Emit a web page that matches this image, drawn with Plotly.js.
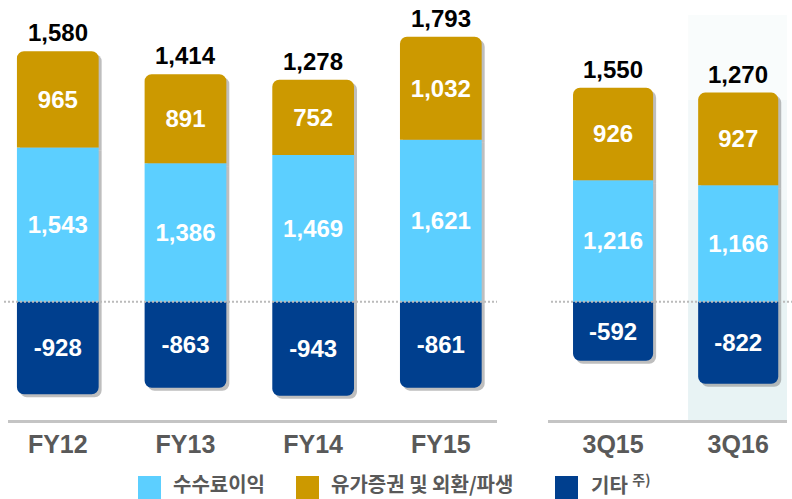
<!DOCTYPE html>
<html>
<head>
<meta charset="utf-8">
<script src="https://cdn.plot.ly/plotly-3.0.1.min.js"></script>
<style>html,body{margin:0;padding:0;background:#fff;}#chart{width:792px;height:499px;}</style>
</head>
<body>
<div id="chart"></div>
<script>
// ---- data ----
const annualCats = ["FY12", "FY13", "FY14", "FY15"];
const quarterCats = ["3Q15", "3Q16"];
const feeAnnual = [1543, 1386, 1469, 1621];
const secAnnual = [965, 891, 752, 1032];
const otherAnnual = [-928, -863, -943, -861];
const totalAnnual = [1580, 1414, 1278, 1793];
const feeQuarter = [1216, 1166];
const secQuarter = [926, 927];
const otherQuarter = [-592, -822];
const totalQuarter = [1550, 1270];
const seriesNames = ["수수료이익", "유가증권 및 외환/파생", "기타"];
const legendNote = "주)";

// ---- styles ----
const C_FEE = "#5CCFFF", C_SEC = "#CC9900", C_OTH = "#003F8E";
const FONT = "Liberation Sans, Arial, sans-serif";
const KFONT = "Noto Sans CJK KR, sans-serif";
const W = 792, PLOT_H = 420;
const shadowColor = "rgba(110,110,110,0.45)";

function fmt(v){ return v.toLocaleString("en-US"); }

function barTrace(x, y, color, xa, ya, name, shadow){
  const t = {
    type: "bar", x: x, y: y, name: name, xaxis: xa, yaxis: ya,
    marker: {color: shadow ? shadowColor : color, cornerradius: 7, line: {width: 0}},
    showlegend: false, hoverinfo: "skip"
  };
  if (!shadow){
    t.text = y.map(fmt);
    t.texttemplate = "%{text}";
    t.textposition = "inside";
    t.insidetextanchor = "middle";
    t.textangle = 0;
    t.constraintext = "none";
    t.textfont = {family: FONT, size: 24, color: "#ffffff", weight: "bold"};
  }
  return t;
}

const traces = [];
// shadows (base subplots, shifted ranges)
[[annualCats, [feeAnnual, secAnnual, otherAnnual], "x"], [quarterCats, [feeQuarter, secQuarter, otherQuarter], "x2"]].forEach(g => {
  g[1].forEach((s, i) => traces.push(barTrace(g[0], s, null, g[2], "y", seriesNames[i], true)));
});
// main bars (overlay subplots, true ranges)
[[annualCats, [feeAnnual, secAnnual, otherAnnual], "x3"], [quarterCats, [feeQuarter, secQuarter, otherQuarter], "x4"]].forEach(g => {
  const cols = [C_FEE, C_SEC, C_OTH];
  g[1].forEach((s, i) => traces.push(barTrace(g[0], s, cols[i], g[2], "y2", seriesNames[i], false)));
});

// totals
const annotations = [];
function addTotals(cats, fee, sec, tot, xref){
  cats.forEach((c, i) => annotations.push({
    x: c, y: fee[i] + sec[i], xref: xref, yref: "y2", text: fmt(tot[i]),
    showarrow: false, yanchor: "bottom", yshift: 3,
    font: {family: FONT, size: 24, color: "#000000", weight: "bold"}
  }));
}
addTotals(annualCats, feeAnnual, secAnnual, totalAnnual, "x3");
addTotals(quarterCats, feeQuarter, secQuarter, totalQuarter, "x4");

// legend (custom)
const legendItems = [
  {x0: 138, tx: 171, color: C_FEE, text: seriesNames[0]},
  {x0: 296, tx: 329, color: C_SEC, text: seriesNames[1]},
  {x0: 555, tx: 589, color: C_OTH, text: seriesNames[2] + " <sup>" + legendNote + "</sup>"}
];
const shapes = [];
legendItems.forEach(it => {
  shapes.push({type: "rect", xref: "paper", yref: "paper",
    x0: it.x0 / W, x1: (it.x0 + 23) / W, y0: (PLOT_H - 476) / PLOT_H, y1: (PLOT_H - 499) / PLOT_H,
    fillcolor: it.color, line: {width: 0}});
  annotations.push({xref: "paper", yref: "paper", x: it.tx / W, y: (PLOT_H - 484) / PLOT_H,
    xanchor: "left", yanchor: "middle", showarrow: false, text: it.text,
    font: {family: KFONT, size: 20, color: "#595959", weight: "bold"}});
});

// highlight shading for 3Q16 (gradient approximation)
const shadeSteps = [[15, 0.2], [100, 0.3], [200, 0.4], [300, 0.55]];
shadeSteps.forEach(s => shapes.push({type: "rect", layer: "below", xref: "x4", yref: "paper",
  x0: 0.6, x1: 1.39, y0: 0, y1: (PLOT_H - s[0]) / PLOT_H,
  fillcolor: "#E3F0F2", opacity: s[1], line: {width: 0}}));

// dotted zero lines
shapes.push({type: "line", xref: "paper", yref: "y2", x0: 4 / W, x1: 497 / W, y0: 0, y1: 0,
  line: {color: "#BBBBBB", width: 2, dash: "2px,2px"}, layer: "above"});
shapes.push({type: "line", xref: "paper", yref: "y2", x0: 551 / W, x1: 792 / W, y0: 0, y1: 0,
  line: {color: "#BBBBBB", width: 2, dash: "2px,2px"}, layer: "above"});

const yRange = [-1185, 3020];
const pxPerUnit = PLOT_H / (yRange[1] - yRange[0]);
const shY = 3 / pxPerUnit;
const xA = [-0.39, 3.44], xQ = [-0.52, 1.39];
const domA = [8 / W, 497 / W], domQ = [548 / W, 787 / W];
const tickFont = {family: FONT, size: 25, color: "#595959", weight: "bold"};
const shownX = {type: "category", showgrid: false, zeroline: false, showline: true,
  linecolor: "#C4C4C4", linewidth: 3, ticks: "", tickfont: tickFont, fixedrange: true};
const hidX = {type: "category", showgrid: false, zeroline: false, showline: false,
  showticklabels: false, ticks: "", fixedrange: true};

const layout = {
  width: 792, height: 499,
  margin: {l: 0, r: 0, t: 0, b: 79},
  paper_bgcolor: "#ffffff", plot_bgcolor: "rgba(0,0,0,0)",
  barmode: "relative", bargap: 0.36,
  showlegend: false,
  xaxis: Object.assign({}, hidX, {domain: domA, range: [xA[0] - 3 / 128, xA[1] - 3 / 128], anchor: "y"}),
  xaxis2: Object.assign({}, hidX, {domain: domQ, range: [xQ[0] - 3 / 125, xQ[1] - 3 / 125], anchor: "y"}),
  xaxis3: Object.assign({}, shownX, {domain: domA, range: xA, anchor: "y2", overlaying: "x"}),
  xaxis4: Object.assign({}, shownX, {domain: domQ, range: xQ, anchor: "y2", overlaying: "x2"}),
  yaxis: {range: [yRange[0] + shY, yRange[1] + shY], visible: false, showgrid: false, zeroline: false, fixedrange: true},
  yaxis2: {range: yRange, visible: false, showgrid: false, zeroline: false, overlaying: "y", fixedrange: true},
  shapes: shapes,
  annotations: annotations
};

Plotly.newPlot("chart", traces, layout, {displayModeBar: false, staticPlot: true});
</script>
</body>
</html>
